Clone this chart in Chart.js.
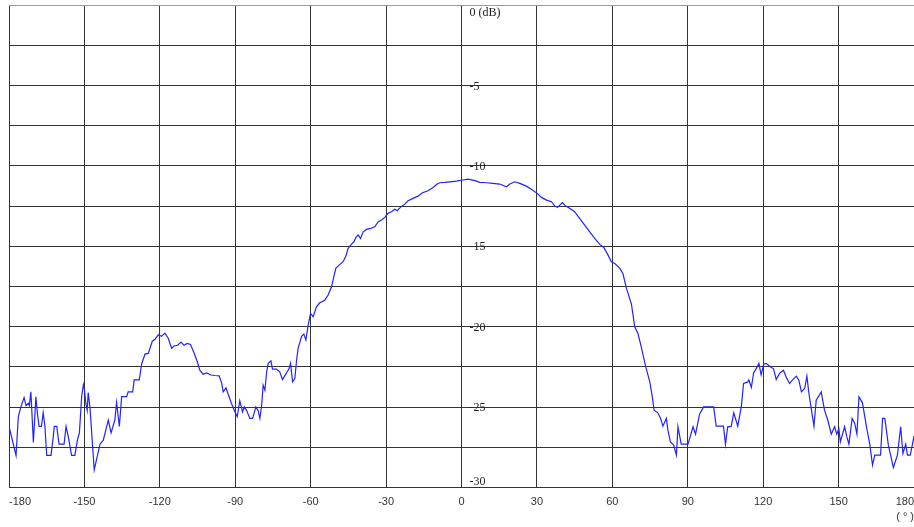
<!DOCTYPE html>
<html>
<head>
<meta charset="utf-8">
<script src="https://cdn.jsdelivr.net/npm/chart.js@4/dist/chart.umd.min.js"></script>
<style>
  html, body { margin: 0; padding: 0; background: #fff; overflow: hidden; }
  canvas { display: block; }
</style>
</head>
<body>
<canvas id="c" width="914" height="527"></canvas>
<script>
// Angle (degrees) of each measured point
const angles = [
  -180, -177.2, -176.3, -175.3, -174, -173.2, -172.3, -171.9, -171.3, -170.3,
  -169.3, -168.7, -168, -167.1, -166.4, -165.7, -165, -163.3, -162.4, -162,
  -161, -160.1, -158.1, -157.3, -156.4, -155.1, -153.8, -152.8, -152, -151.1,
  -150.4, -150, -149.4, -148.9, -148.5, -147.8, -146.1, -143.8, -142.5, -140.5,
  -139.4, -137.9, -137.2, -136.1, -135.2, -133.2, -132.6, -130.8, -130.2, -128.2,
  -127.2, -125.9, -124.6, -123, -122, -120.6, -119.3, -118, -116.7, -115.3,
  -114.4, -112.9, -111.6, -110.4, -109.1, -107.8, -106.3, -105.1, -104.1, -102.8,
  -101.4, -99.7, -98.1, -96.4, -95.4, -94.8, -93.7, -92.8, -91.5, -90.1,
  -89.2, -88.2, -87.1, -86.4, -85.5, -84.2, -83.1, -81.8, -80.9, -80.2,
  -79.5, -78.9, -78.2, -77.5, -76.9, -75.8, -75.2, -73.6, -72.3, -71.2,
  -69.9, -68.6, -68, -67.2, -66.3, -65.6, -65, -63.6, -62.7, -61.9,
  -61, -60.05, -59, -57.7, -56.4, -54.4, -53.05, -51.7, -50.8, -50,
  -48.7, -47.1, -46, -45.1, -43.75, -42.8, -42, -41.1, -40.2, -39.1,
  -37.8, -36.2, -34.5, -33.2, -31.8, -30.5, -29.2, -27.85, -26.5, -25.6,
  -24.3, -22.6, -21.25, -19.25, -17.3, -15.5, -13.3, -11.3, -9.7, -8.6,
  -6.6, -4.6, -2, 0.5, 2.6, 5.3, 7.3, 9.9, 12.5, 15.2,
  17.9, 19.2, 21.2, 23.2, 25.8, 27.8, 30.1, 31.8, 33.8, 35.8,
  37.1, 38.2, 39.1, 40.1, 41.5, 43, 45, 47, 49, 51,
  53, 55, 56.6, 58.3, 59.6, 61, 63, 64.2, 65.6, 67.6,
  68.9, 70.2, 71.5, 73.3, 74.9, 75.9, 76.6, 78.1, 79.2, 80.1,
  81.5, 82.1, 83.1, 84.4, 85.5, 86.1, 87.4, 90.1, 92.1, 93.1,
  94.7, 96.3, 100.3, 101.3, 104.2, 105, 105.9, 107.3, 108.3, 109.9,
  111.3, 112.2, 113.9, 114.3, 115.3, 116.2, 117.5, 118.3, 119.2, 120.2,
  121.2, 123.2, 124.1, 125.2, 126.5, 128.1, 129.2, 130.5, 131.6, 133.2,
  134.2, 135.2, 136.5, 137.4, 138.2, 140.2, 141.1, 143.1, 144.4, 145.7,
  147.1, 148.4, 149.3, 150.1, 150.7, 152.4, 153.3, 154.1, 155.4, 156.4,
  157.3, 158.1, 159.5, 161.1, 162.4, 163.5, 164.4, 166.7, 167.5, 168.4,
  169.8, 171.8, 173.4, 174.7, 175.6, 176.7, 177.4, 178.5, 179.4, 180
];
// Relative level (dB) at each angle
const levels = [
  -26.2, -28.0, -25.6, -25.0, -24.4, -24.9, -24.76, -24.9, -24.05, -27.2,
  -24.35, -25.4, -26.2, -26.2, -25.35, -26.2, -28.0, -28.0, -26.85, -26.2,
  -26.2, -27.3, -27.3, -26.2, -26.85, -28.0, -28.0, -27.05, -26.6, -24.35,
  -23.6, -23.9, -24.8, -25.2, -24.1, -25.0, -28.9, -27.3, -27.05, -25.8,
  -26.6, -25.8, -24.7, -26.2, -24.35, -24.35, -24.05, -24.05, -23.3, -23.3,
  -22.3, -21.7, -21.66, -20.9, -20.8, -20.5, -20.6, -20.4, -20.7, -21.35,
  -21.2, -21.15, -20.96, -21.15, -21.04, -21.1, -21.66, -22.18, -22.7, -22.95,
  -22.87, -23.0, -23.03, -23.05, -23.5, -24.05, -23.8, -24.2, -24.77, -25.3,
  -25.6, -24.6, -25.3, -24.98, -25.2, -25.7, -25.7, -24.98, -25.2, -25.7,
  -24.9, -23.63, -23.94, -22.8, -22.28, -22.12, -22.64, -22.64, -22.8, -23.28,
  -22.95, -22.6, -22.28, -23.43, -23.22, -22.08, -21.35, -20.6, -20.46, -20.83,
  -19.9, -19.17, -19.38, -18.76, -18.51, -18.35, -18.03, -17.52, -16.9, -16.37,
  -16.17, -15.96, -15.61, -15.13, -14.86, -14.72, -14.45, -14.3, -14.51, -14.1,
  -13.95, -13.89, -13.79, -13.48, -13.37, -13.2, -12.95, -12.85, -12.7, -12.79,
  -12.58, -12.38, -12.17, -12.02, -11.88, -11.67, -11.55, -11.34, -11.13, -11.05,
  -11.03, -10.99, -10.95, -10.88, -10.83, -10.92, -11.03, -11.05, -11.09, -11.13,
  -11.3, -11.13, -10.99, -11.09, -11.26, -11.46, -11.71, -11.96, -12.13, -12.23,
  -12.5, -12.58, -12.44, -12.29, -12.5, -12.64, -12.85, -13.27, -13.68, -14.1,
  -14.51, -14.88, -15.07, -15.55, -15.96, -16.07, -16.37, -16.69, -17.6, -18.6,
  -20.0, -20.42, -21.25, -22.49, -23.43, -24.36, -25.19, -25.35, -25.7, -26.18,
  -25.7, -26.43, -27.16, -27.36, -27.98, -26.22, -27.3, -27.3, -26.22, -26.68,
  -25.44, -24.98, -24.98, -26.18, -26.18, -27.3, -26.22, -26.2, -25.35, -26.18,
  -24.98, -23.53, -23.43, -23.3, -23.78, -22.87, -22.53, -22.28, -23.0, -22.33,
  -22.28, -22.53, -22.6, -23.28, -22.9, -22.7, -23.15, -23.53, -23.32, -23.07,
  -23.32, -24.05, -23.84, -23.07, -24.15, -26.18, -24.56, -24.05, -25.19, -25.8,
  -26.68, -26.22, -26.68, -26.33, -27.16, -26.22, -26.85, -27.3, -25.7, -26.0,
  -26.68, -24.36, -24.73, -26.22, -27.3, -28.6, -27.98, -27.98, -25.7, -25.7,
  -27.36, -28.75, -27.98, -26.22, -27.88, -27.3, -27.98, -27.98, -27.3, -26.8
];
// Axis tick labels
const xTickValues = [-180, -150, -120, -90, -60, -30, 0, 30, 60, 90, 120, 150, 180];
const yTickValues = [0, -5, -10, -15, -20, -25, -30];
const yTickLabels = ['0 (dB)', '-5', '-10', '-15', '-20', '-25', '-30'];
const xUnitLabel = '( ° )';

const points = angles.map((a, i) => ({ x: a, y: levels[i] }));

const yLabelPlugin = {
  id: 'yLabels',
  afterDraw(chart) {
    const ctx = chart.ctx;
    const xs = chart.scales.x, ys = chart.scales.y;
    const x0 = xs.getPixelForValue(0) + 8;
    ctx.save();
    ctx.font = '12px "Liberation Serif", serif';
    ctx.fillStyle = '#222';
    ctx.textAlign = 'left';
    ctx.textBaseline = 'middle';
    yTickValues.forEach((v, i) => {
      let y = ys.getPixelForValue(v);
      if (i === 0) y += 8;
      else if (i === yTickValues.length - 1) y -= 5.5;
      else y += 1;
      ctx.fillText(yTickLabels[i], x0, y);
    });
    ctx.restore();
  }
};

new Chart(document.getElementById('c'), {
  type: 'scatter',
  data: {
    datasets: [{
      data: points,
      showLine: true,
      borderColor: '#2222ff',
      borderWidth: 1.2,
      pointRadius: 0,
      tension: 0,
      fill: false
    }]
  },
  options: {
    responsive: false,
    animation: false,
    devicePixelRatio: 1,
    layout: { padding: { left: 9, top: 5, right: 0, bottom: 3 } },
    plugins: { legend: { display: false }, tooltip: { enabled: false } },
    scales: {
      x: {
        type: 'linear',
        min: -180, max: 180,
        afterBuildTicks: (s) => { s.ticks = xTickValues.map(v => ({ value: v })); },
        ticks: {
          align: 'inner', padding: 0, maxRotation: 0, autoSkip: false,
          color: '#333', font: { family: '"Liberation Sans", sans-serif', size: 11 }
        },
        grid: { color: '#333', lineWidth: 1, drawTicks: true, tickLength: 8, tickColor: 'rgba(0,0,0,0)' },
        border: { display: false },
        title: {
          display: true, text: xUnitLabel, align: 'end', color: '#333',
          font: { family: '"Liberation Sans", sans-serif', size: 11 },
          padding: { top: 2, bottom: 0 }
        }
      },
      y: {
        type: 'linear',
        min: -30, max: 0,
        ticks: { stepSize: 2.5, display: false },
        grid: {
          color: (c) => (c.tick && c.tick.value === 0) ? '#999' : '#333',
          lineWidth: 1, drawTicks: false
        },
        border: { display: false }
      }
    }
  },
  plugins: [yLabelPlugin]
});
</script>
</body>
</html>
